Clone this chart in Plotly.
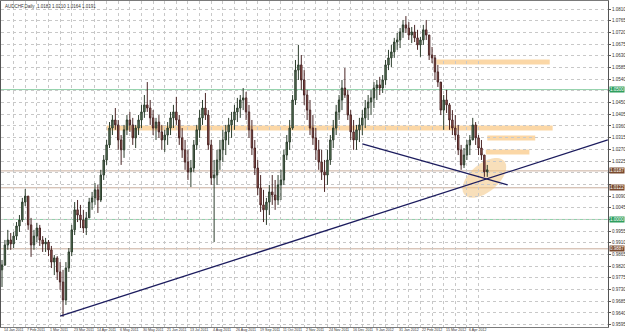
import math
import plotly.graph_objects as go

# ---------------- data (AUDCHF daily, one candle per two sessions) ----------------
close = [0.9825,0.9902,0.9921,0.9906,0.9936,0.9975,0.9998,1.0067,1.0090,0.9979,
         0.9902,0.9936,0.9967,0.9921,0.9906,0.9913,0.9883,0.9836,0.9852,0.9798,
         0.9759,0.9690,0.9813,0.9875,0.9960,1.0037,1.0017,0.9998,0.9967,1.0006,
         1.0067,1.0083,1.0114,1.0075,1.0171,1.0229,1.0287,1.0352,1.0383,1.0364,
         1.0306,1.0268,1.0345,1.0383,1.0364,1.0314,1.0352,1.0383,1.0414,1.0441,
         1.0429,1.0391,1.0352,1.0375,1.0337,1.0306,1.0325,1.0352,1.0391,1.0414,
         1.0383,1.0314,1.0268,1.0221,1.0183,1.0198,1.0287,1.0345,1.0391,1.0429,
         1.0402,1.0287,1.0160,1.0171,1.0229,1.0268,1.0306,1.0337,1.0364,1.0383,
         1.0414,1.0429,1.0460,1.0468,1.0414,1.0345,1.0275,1.0198,1.0121,1.0056,
         1.0037,1.0067,1.0106,1.0094,1.0075,1.0133,1.0152,1.0248,1.0298,1.0352,
         1.0460,1.0575,1.0595,1.0537,1.0479,1.0421,1.0352,1.0314,1.0268,1.0221,
         1.0183,1.0171,1.0229,1.0306,1.0352,1.0414,1.0460,1.0506,1.0479,1.0402,
         1.0337,1.0306,1.0345,1.0364,1.0391,1.0429,1.0452,1.0468,1.0506,1.0518,
         1.0506,1.0537,1.0595,1.0622,1.0645,1.0683,1.0691,1.0722,1.0749,1.0737,
         1.0710,1.0722,1.0699,1.0672,1.0691,1.0730,1.0710,1.0633,1.0622,1.0568,
         1.0529,1.0421,1.0460,1.0441,1.0383,1.0352,1.0325,1.0268,1.0210,1.0248,
         1.0287,1.0306,1.0364,1.0314,1.0275,1.0248,1.0183,1.0191]

high = [0.9844,0.9921,0.9960,0.9948,0.9952,0.9990,1.0017,1.0083,1.0117,1.0090,
        1.0006,0.9960,0.9987,0.9979,0.9936,0.9929,0.9921,0.9898,0.9863,0.9859,
        0.9836,0.9806,0.9836,0.9890,0.9979,1.0067,1.0075,1.0056,1.0037,1.0029,
        1.0083,1.0106,1.0140,1.0133,1.0191,1.0248,1.0306,1.0375,1.0402,1.0429,
        1.0383,1.0325,1.0364,1.0402,1.0414,1.0391,1.0364,1.0402,1.0441,1.0479,
        1.0529,1.0460,1.0421,1.0391,1.0402,1.0364,1.0345,1.0375,1.0414,1.0441,
        1.0472,1.0402,1.0352,1.0306,1.0268,1.0229,1.0306,1.0364,1.0421,1.0460,
        1.0487,1.0421,1.0306,1.0229,1.0268,1.0306,1.0345,1.0364,1.0391,1.0414,
        1.0441,1.0468,1.0479,1.0506,1.0491,1.0441,1.0383,1.0306,1.0229,1.0171,
        1.0114,1.0083,1.0133,1.0171,1.0152,1.0171,1.0191,1.0268,1.0325,1.0383,
        1.0479,1.0614,1.0672,1.0633,1.0575,1.0499,1.0460,1.0402,1.0352,1.0306,
        1.0268,1.0229,1.0268,1.0325,1.0383,1.0441,1.0479,1.0537,1.0583,1.0499,
        1.0421,1.0383,1.0364,1.0391,1.0421,1.0460,1.0479,1.0499,1.0529,1.0537,
        1.0549,1.0556,1.0614,1.0653,1.0672,1.0699,1.0718,1.0737,1.0768,1.0783,
        1.0760,1.0741,1.0749,1.0730,1.0703,1.0749,1.0768,1.0710,1.0664,1.0633,
        1.0595,1.0525,1.0479,1.0499,1.0448,1.0421,1.0402,1.0364,1.0287,1.0275,
        1.0306,1.0325,1.0391,1.0375,1.0325,1.0306,1.0248,1.0210]

low = [0.9740,0.9821,0.9883,0.9883,0.9890,0.9921,0.9952,0.9990,1.0052,0.9960,
       0.9856,0.9883,0.9913,0.9898,0.9875,0.9875,0.9859,0.9813,0.9786,0.9767,
       0.9729,0.9625,0.9671,0.9798,0.9859,0.9940,0.9990,0.9967,0.9948,0.9940,
       1.0006,1.0037,1.0056,1.0025,1.0067,1.0152,1.0210,1.0275,1.0325,1.0345,
       1.0268,1.0210,1.0237,1.0325,1.0337,1.0287,1.0275,1.0325,1.0352,1.0391,
       1.0414,1.0364,1.0325,1.0306,1.0314,1.0268,1.0260,1.0287,1.0325,1.0352,
       1.0364,1.0287,1.0237,1.0191,1.0152,1.0125,1.0183,1.0268,1.0314,1.0364,
       1.0383,1.0268,1.0133,0.9913,1.0133,1.0191,1.0221,1.0248,1.0287,1.0314,
       1.0345,1.0375,1.0391,1.0421,1.0383,1.0314,1.0248,1.0171,1.0094,1.0029,
       0.9990,0.9979,1.0017,1.0056,1.0037,1.0056,1.0075,1.0133,1.0229,1.0268,
       1.0345,1.0441,1.0537,1.0499,1.0441,1.0383,1.0325,1.0287,1.0229,1.0191,
       1.0152,1.0106,1.0133,1.0210,1.0275,1.0325,1.0383,1.0421,1.0468,1.0383,
       1.0306,1.0268,1.0268,1.0298,1.0325,1.0352,1.0383,1.0402,1.0429,1.0460,
       1.0479,1.0487,1.0518,1.0575,1.0587,1.0622,1.0653,1.0660,1.0699,1.0718,
       1.0691,1.0679,1.0683,1.0653,1.0626,1.0672,1.0691,1.0614,1.0602,1.0537,
       1.0510,1.0402,1.0345,1.0410,1.0345,1.0325,1.0306,1.0248,1.0191,1.0198,
       1.0229,1.0248,1.0306,1.0287,1.0248,1.0229,1.0164,1.0164]

first_open = 0.9806
# forex daily candles open where the previous one closed
open_ = [first_open] + close[:-1]

sessions_per_candle = 2
date_labels = ["14 Jan 2011", "7 Feb 2011", "1 Mar 2011", "23 Mar 2011", "14 Apr 2011",
               "6 May 2011", "30 May 2011", "21 Jun 2011", "13 Jul 2011", "4 Aug 2011",
               "26 Aug 2011", "19 Sep 2011", "11 Oct 2011", "2 Nov 2011", "24 Nov 2011",
               "16 Dec 2011", "9 Jan 2012", "31 Jan 2012", "22 Feb 2012", "15 Mar 2012",
               "6 Apr 2012"]
sessions_per_label = 16

price_top_tick = 1.0810
price_step = 0.0045
price_tick_count = 28

# horizontal levels drawn on the chart
levels = [1.0500, 1.0187, 1.0122, 1.0000, 0.9887]
level_kind = ["green", "brown", "brown", "green", "brown"]

# supply/demand zones: (start session, end session, price)
zones = [(72, 379, 1.0352), (299, 377, 1.0606), (334, 367, 1.0314), (333, 363, 1.0260)]

# trend lines: (session, price) pairs
rising_line = [(40, 0.9628), (417, 1.0306)]
falling_line = [(248, 1.0291), (348, 1.0133)]

# highlight ellipse around the latest bars
ellipse_center = (332, 1.0160)

# ---------------- figure ----------------
x = [i * sessions_per_candle for i in range(len(close))]

W, H = 625, 335
ML, MR, MT, MB = 1, 17, 1, 8
XR = [-0.69, 417.1]
YR = [0.9586, 1.0841]
px_per_x = (W - ML - MR) / (XR[1] - XR[0])
px_per_y = (H - MT - MB) / (YR[1] - YR[0])
FONT = "Liberation Sans"

fig = go.Figure()
fig.add_trace(go.Candlestick(
    x=x, open=open_, high=high, low=low, close=close,
    increasing=dict(line=dict(color="#2e3f2e", width=1), fillcolor="#5d7a5d"),
    decreasing=dict(line=dict(color="#4a2626", width=1), fillcolor="#a35a52"),
    whiskerwidth=0, showlegend=False, hoverinfo="skip"))

shapes = []
col = {"green": ("#8fd0a8", "#2f9e5e"), "brown": ("#c9ad9c", "#7a4a2e")}
for lv, kind in zip(levels, level_kind):
    shapes.append(dict(type="line", xref="paper", x0=0, x1=1, yref="y", y0=lv, y1=lv,
                       line=dict(color=col[kind][0], width=1), layer="below"))

for x0, x1, p in zones:
    shapes.append(dict(type="line", xref="x", yref="y", x0=x0, x1=x1, y0=p, y1=p,
                       line=dict(color="rgba(250,208,150,0.85)", width=5), layer="below"))

# rotated ellipse built in pixel space then mapped into data space
a_px, b_px, ang = 26, 14, math.radians(40)
pts = []
for k in range(49):
    t = 2 * math.pi * k / 48
    dx = a_px * math.cos(t) * math.cos(ang) - b_px * math.sin(t) * math.sin(ang)
    dy = a_px * math.cos(t) * math.sin(ang) + b_px * math.sin(t) * math.cos(ang)
    pts.append((ellipse_center[0] + dx / px_per_x, ellipse_center[1] + dy / px_per_y))
path = "M " + " L ".join(f"{px:.3f},{py:.5f}" for px, py in pts) + " Z"
shapes.append(dict(type="path", xref="x", yref="y", path=path,
                   fillcolor="rgba(243,196,130,0.55)", line=dict(width=0), layer="below"))

for ln in (rising_line, falling_line):
    shapes.append(dict(type="line", xref="x", yref="y",
                       x0=ln[0][0], y0=ln[0][1], x1=ln[1][0], y1=ln[1][1],
                       line=dict(color="#1c1c5e", width=1.3)))

annotations = []
for lv, kind in zip(levels, level_kind):
    annotations.append(dict(xref="paper", x=1, xanchor="left", xshift=1, yref="y", y=lv,
                            text=f"{lv:.4f}", showarrow=False, bgcolor=col[kind][1],
                            font=dict(size=4.5, color="white", family=FONT),
                            borderpad=0))
annotations.append(dict(xref="paper", yref="paper", x=0, y=1, xanchor="left", yanchor="top",
                        xshift=2, yshift=-1,
                        text=f"AUDCHF,Daily  {open_[-1]:.4f} {high[-1]:.4f} {low[-1]:.4f} {close[-1]:.4f}",
                        showarrow=False, font=dict(size=4.5, color="#333333", family=FONT)))

# date labels written just right of their tick, right under the axis line
for k, lab in enumerate(date_labels):
    annotations.append(dict(xref="x", yref="paper", x=k * sessions_per_label, y=0,
                            xanchor="left", yanchor="top", xshift=1, yshift=0,
                            text=lab, showarrow=False, borderpad=0,
                            font=dict(size=3.6, color="#333333", family=FONT)))

tickvals = [k * sessions_per_label // 2 for k in range(2 * len(date_labels))]

# price ticks; labels hidden where a level tag covers them (as in the terminal)
ytickvals = [round(price_top_tick - k * price_step, 4) for k in range(price_tick_count)]
yticktext = ["" if any(abs(v - lv) < 0.0020 for lv in levels) else f"{v:.4f}" for v in ytickvals]

fig.update_layout(
    width=W, height=H, margin=dict(l=ML, r=MR, t=MT, b=MB, autoexpand=False),
    paper_bgcolor="white", plot_bgcolor="white",
    shapes=shapes, annotations=annotations,
    xaxis=dict(range=XR, rangeslider=dict(visible=False), tickmode="array",
               tickvals=tickvals, showticklabels=False, automargin=False,
               showgrid=True, gridcolor="#c8c8c8", griddash="dot", gridwidth=1,
               showline=True, linecolor="#7a7a7a", linewidth=1, mirror=True,
               ticks="", zeroline=False),
    yaxis=dict(range=YR, side="right", tickmode="array", tickvals=ytickvals, ticktext=yticktext,
               automargin=False,
               showgrid=True, gridcolor="#c8c8c8", griddash="dot", gridwidth=1,
               showline=True, linecolor="#555555", linewidth=1, mirror=True,
               ticks="outside", ticklen=2, tickcolor="#555555", zeroline=False,
               tickfont=dict(size=4.5, color="#333333", family=FONT)),
)

fig.write_html("out.html")
